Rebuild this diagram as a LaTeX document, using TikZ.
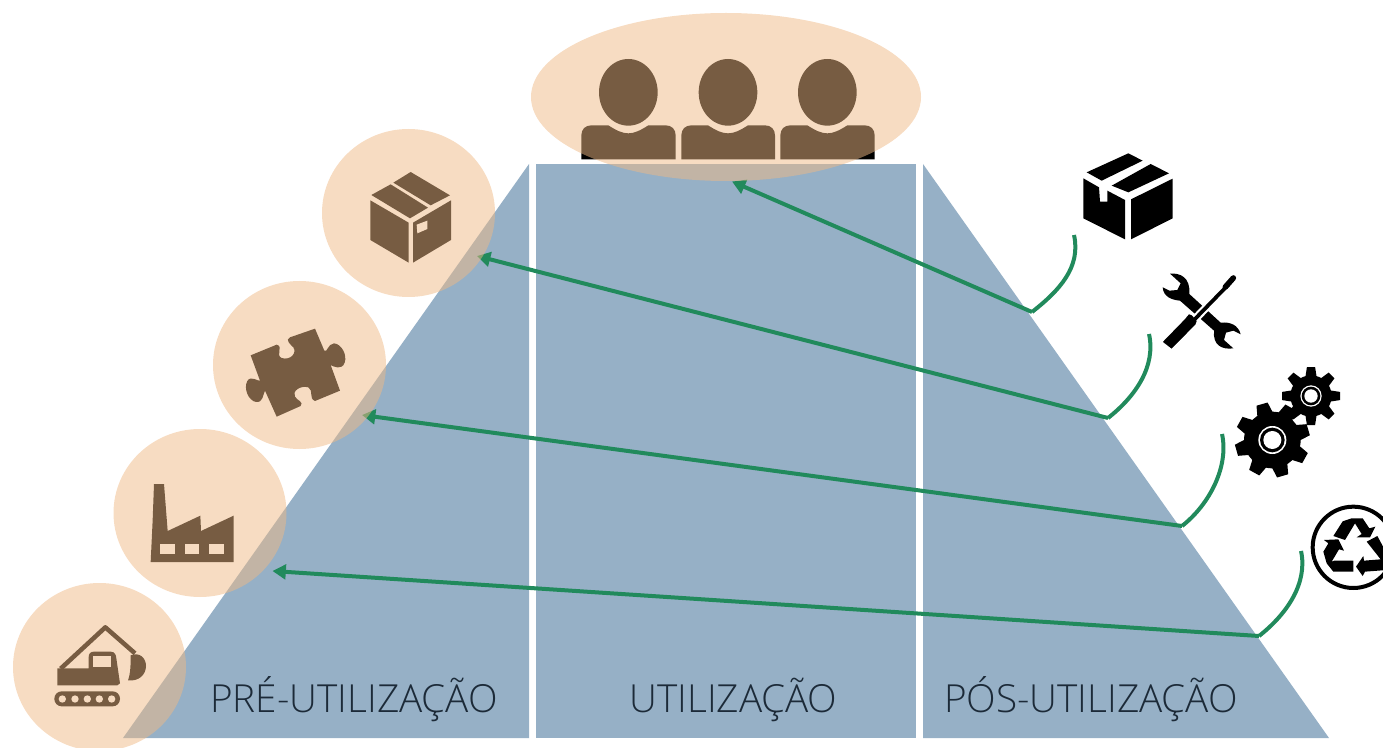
\documentclass[tikz,border=0pt]{standalone}
\usepackage{fontspec}
\setmainfont{Open Sans}[UprightFont=* Light]
\usetikzlibrary{shapes.geometric,arrows.meta}
\definecolor{blueshape}{HTML}{96B0C6}
\definecolor{peach}{HTML}{EFB985}
\definecolor{linkgreen}{HTML}{218A5C}
\definecolor{labelink}{HTML}{1C2A38}
\tikzset{
  x=0.75pt,y=-0.75pt,
  band/.style={fill=blueshape,draw=none},
  icon/.style={fill=black,draw=none},
  hole/.style={fill=white,draw=none},
  halo/.style={shape=ellipse,fill=peach,fill opacity=0.5,draw=none,inner sep=0pt,minimum width=129.75pt,minimum height=126pt},
  topHalo/.style={shape=ellipse,fill=peach,fill opacity=0.5,draw=none,inner sep=0pt,minimum width=292.5pt,minimum height=126pt},
  link/.style={draw=linkgreen,line width=3pt,line join=round},
  tipped/.style={link,-{Triangle[length=10pt,width=11pt]}},
  phase/.style={text=labelink,font=\fontsize{29pt}{34pt}\selectfont,anchor=base,inner sep=0pt}
}
\newcommand{\gearshape}[6]{% cx cy root outer toothwidth startangle
  \fill[icon] (#1,#2) circle[radius=#3];
  \foreach \ang in {0,45,...,315}{
    \fill[icon,shift={(#1,#2)},rotate=\ang+#6] (-#5,-#3+6) -- (-#5*0.72,-#4) -- (#5*0.72,-#4) -- (#5,-#3+6) -- cycle;
  }
}
\begin{document}
\begin{tikzpicture}
\useasboundingbox (0,0) rectangle (1383,748);
\clip (0,0) rectangle (1383,748);

% people (under the ellipse)
\begin{scope}[shift={(520,0)},scale=1/3]
  \foreach \hx/\bl/\br in {325/184/467,624/484/765,922/781/1064}{
    \fill[icon] (\hx,277) ellipse[x radius=88,y radius=100];
    \fill[icon] (\bl,478) -- (\bl,406) .. controls (\bl,388) and (\bl+12,376) .. (\bl+30,376)
      -- (\hx-60,376) .. controls (\hx-35,392) and (\hx-18,400) .. (\hx,400)
      .. controls (\hx+18,400) and (\hx+35,392) .. (\hx+60,376)
      -- (\br-30,376) .. controls (\br-12,376) and (\br,388) .. (\br,406) -- (\br,478) -- cycle;
  }
\end{scope}

% excavator
\begin{scope}[shift={(0,420)},scale=1/3]
  \draw[black,line width=3.4pt,line join=round] (182,746) -- (316,622) -- (405,700);
  \fill[icon] (392,706) .. controls (420,695) and (438,715) .. (438,738)
    .. controls (438,765) and (415,785) .. (384,781) .. controls (392,760) and (392,730) .. (392,706) -- cycle;
  \fill[icon] (172,745) -- (266,745) -- (266,712) .. controls (266,700) and (272,695) .. (282,695)
    -- (332,695) .. controls (345,695) and (348,705) .. (349,715) -- (360,790) -- (352,796) -- (172,796) -- cycle;
  \fill[hole] (280,708) rectangle (333,742);
  \fill[icon,rounded corners=5.5pt] (163,814) rectangle (360,859);
  \foreach \wx in {187,225,262,298,335}{\fill[hole] (\wx,837) circle[radius=11];}
\end{scope}

% factory
\begin{scope}[shift={(0,420)},scale=1/3]
  \fill[icon] (452,426) -- (458,300) -- (462,192) -- (492,192) -- (503,333) -- (601,287) -- (603,333) -- (701,287) -- (701,426) -- cycle;
  \foreach \wx in {481,554,627}{\fill[hole] (\wx,372) rectangle ++(44,31);}
\end{scope}

% puzzle piece
\begin{scope}[shift={(210,120)},scale=1/3]
  \fill[icon] (122,706) -- (200,674)
    .. controls (222,680) and (195,705) .. (215,714)
    .. controls (240,722) and (262,700) .. (250,682)
    .. controls (240,672) and (225,660) .. (240,652)
    -- (315,626) -- (343,692)
    .. controls (352,700) and (352,672) .. (372,670)
    .. controls (395,672) and (412,705) .. (404,728)
    .. controls (396,752) and (370,740) .. (362,735)
    -- (390,812) -- (315,843)
    .. controls (295,835) and (312,812) .. (295,802)
    .. controls (270,795) and (245,815) .. (255,830)
    .. controls (262,842) and (282,845) .. (272,858)
    -- (200,890) -- (165,812)
    .. controls (158,825) and (160,848) .. (138,846)
    .. controls (115,842) and (100,805) .. (112,783)
    .. controls (122,765) and (145,785) .. (150,782)
    -- cycle;
\end{scope}

% box inside the halo
\begin{scope}[shift={(210,120)},scale=1/3]
  \fill[icon] (602,156) -- (720,226) -- (662,256) -- (550,188) -- cycle;
  \fill[icon] (542,193) -- (654,263) -- (600,295) -- (484,225) -- cycle;
  \fill[icon] (481,241) -- (596,308) -- (596,428) -- (481,360) -- cycle;
  \fill[icon] (609,308) -- (723,241) -- (723,360) -- (609,428) -- cycle;
  \fill[hole] (620,314) -- (652,302) -- (652,327) -- (622,340) -- cycle;
\end{scope}

% phases
\fill[band] (123,738) -- (529,164) -- (529,738) -- cycle;
\fill[band] (536,164) rectangle (916,738);
\fill[band] (923,164) -- (1329,738) -- (923,738) -- cycle;
\node[phase] (pre) at (354,712) {PRÉ-UTILIZAÇÃO};
\node[phase] (uti) at (733.5,712) {UTILIZAÇÃO};
\node[phase] (pos) at (1091,712) {PÓS-UTILIZAÇÃO};

% connectors
\coordinate (t1) at (732,181.5); \coordinate (k1) at (1032,312);  \coordinate (e1) at (1074,235);
\coordinate (t2) at (477,256);   \coordinate (k2) at (1108,418);  \coordinate (e2) at (1149,334);
\coordinate (t3) at (362,415);   \coordinate (k3) at (1182,526);  \coordinate (e3) at (1222,434);
\coordinate (t4) at (272.5,571); \coordinate (k4) at (1259,636);  \coordinate (e4) at (1301,551);
\foreach \n in {1,2,3,4}{
  \draw[tipped] (k\n) -- (t\n);
  \draw[link] (k\n) .. controls +(28,-22) and +(7,32) .. (e\n);
}

% halos
\node[topHalo] (people) at (726,97) {};
\node[halo] (dig) at (99.5,667) {};
\node[halo] (plant) at (200,513) {};
\node[halo] (piece) at (299.5,365) {};
\node[halo] (crate) at (408.5,213) {};

% black box
\begin{scope}[shift={(1020,140)},scale=1/3]
  \fill[icon] (200,97) -- (325,40) -- (368,62) -- (245,122) -- cycle;
  \fill[icon] (275,137) -- (392,72) -- (447,100) -- (325,157) -- cycle;
  \fill[icon] (190,115) -- (237,142) -- (240,185) -- (262,185) -- (262,152) -- (315,180) -- (315,298) -- (190,235) -- cycle;
  \fill[icon] (333,178) -- (458,116) -- (458,235) -- (333,298) -- cycle;
\end{scope}

% wrench and screwdriver
\begin{scope}[shift={(1020,140)},scale=1/3]
  \fill[icon] (450,401) .. controls (480,398) and (512,412) .. (508,462) -- (602,548)
    .. controls (630,545) and (655,555) .. (662,583) -- (640,572) -- (618,578) -- (612,600) -- (640,625)
    .. controls (605,630) and (578,615) .. (582,572) -- (480,482)
    .. controls (455,480) and (430,470) .. (428,442) -- (448,452) -- (472,450) -- (482,430) -- cycle;
  \draw[white,line width=6pt] (522,540) -- (612,448);
  \draw[white,line width=2pt,fill=black,line join=round] (505,518) -- (518,522) -- (535,542) -- (530,556) -- (455,632) -- (422,606) -- (492,534) -- cycle;
  \draw[black,line width=2.8pt] (522,540) -- (625,434);
  \draw[black,line width=4.2pt,line cap=round] (616,441) -- (640,414);
\end{scope}

% gears
\begin{scope}[shift={(1170,350)},scale=1/3]
  \gearshape{307}{270}{85}{112}{24}{16}
  \fill[hole] (307,270) circle[radius=42];
  \fill[icon] (307,270) circle[radius=37];
  \fill[hole] (307,270) circle[radius=27];
  \gearshape{423}{138}{62}{87}{17}{0}
  \fill[hole] (423,138) circle[radius=32];
  \fill[icon] (423,138) circle[radius=28];
  \fill[hole] (423,138) circle[radius=20];
\end{scope}

% recycling sign
\begin{scope}[shift={(1170,350)},scale=1/3]
  \draw[black,line width=3pt] (550,592) circle[radius=122];
  \fill[icon] (490,558) -- (518,514) -- (545,505) -- (578,505) -- (598,535) -- (616,530) -- (600,562) -- (560,562) -- (575,552) -- (555,520) -- (525,570) -- cycle;
  \fill[icon] (462,570) -- (505,568) -- (522,602) -- (507,598) -- (485,635) -- (493,632) -- (550,632) -- (550,665) -- (490,665) -- (470,640) -- (460,605) -- (475,580) -- cycle;
  \fill[icon] (590,575) -- (622,558) -- (650,610) -- (650,660) -- (585,665) -- (578,678) -- (558,650) -- (580,618) -- (582,632) -- (632,628) -- cycle;
\end{scope}
\end{tikzpicture}
\end{document}
